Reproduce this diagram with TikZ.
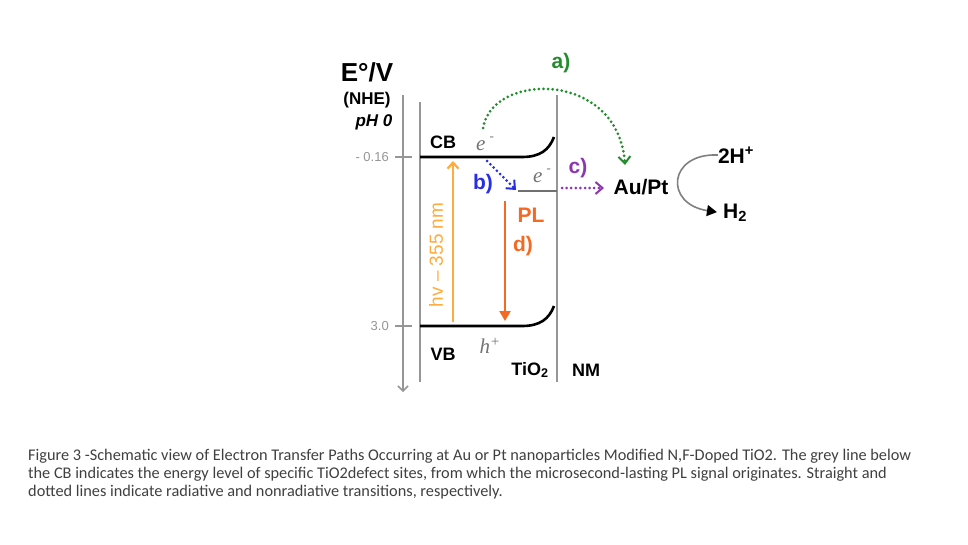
\documentclass[tikz,border=0pt]{standalone}
\usepackage{fontspec}
\setmainfont{Liberation Sans}
\newfontfamily\capfont{Carlito}
\newfontfamily\carrierfont{Liberation Serif}
\usetikzlibrary{arrows.meta, positioning}
\definecolor{axisgrey}{RGB}{150,150,150}
\definecolor{pathgreen}{RGB}{35,140,45}
\definecolor{pathblue}{RGB}{40,45,230}
\definecolor{pathpurple}{RGB}{140,55,175}
\definecolor{lightorange}{RGB}{255,172,60}
\definecolor{deeporange}{RGB}{245,105,35}
\tikzset{
    lbl/.style={font=\bfseries\fontsize{18}{18}\selectfont, inner sep=0pt},
    biglbl/.style={font=\bfseries\fontsize{21}{21}\selectfont, inner sep=0pt},
    carrier/.style={font=\carrierfont\itshape\fontsize{21}{21}\selectfont, text=gray!90!black, inner sep=0pt},
    band/.style={line width=2.6pt, black},
    wall/.style={axisgrey, line width=1.8pt},
    hop/.style={line width=3pt, line cap=round, dash pattern=on 0pt off 4.6pt,
        -{Straight Barb[length=7pt,width=12pt,line width=2pt]}},
}
\newcommand{\EnergyTick}[3]{
    \draw[axisgrey, line width=1.2pt] (395,#1) -- (412,#1);
    \node[anchor=east, text=axisgrey, font=\fontsize{13}{13}\selectfont, inner sep=0pt] (#3) at (389,#1) {#2};
}

\begin{document}
\begin{tikzpicture}[x=1pt, y=-1pt]
    \useasboundingbox[fill=white] (0,0) rectangle (968,544);
    \coordinate (AxTop) at (403,95);
    \coordinate (AxBot) at (403,392);
    \coordinate (LTop) at (420,102);
    \coordinate (LBot) at (420,382);
    \coordinate (RTop) at (557,95);
    \coordinate (RBot) at (557,382);
    \coordinate (CB1) at (420,157);
    \coordinate (CB2) at (522,157);
    \coordinate (CB3) at (554,137);
    \coordinate (VB1) at (420,326);
    \coordinate (VB2) at (522,326);
    \coordinate (VB3) at (554,306);
    \coordinate (D1) at (518,191);
    \coordinate (D2) at (557,191);
    \coordinate (aS) at (483,128);
    \coordinate (aE) at (625,165);
    \coordinate (bS) at (487,161);
    \coordinate (bE) at (516,190);
    \coordinate (cS) at (562,188);
    \coordinate (cE) at (604,188);

    % frame and axis
    \draw[axisgrey, line width=1.5pt, -{Straight Barb[length=5pt,width=10pt]}] (AxTop) -- (AxBot);
    \draw[wall] (LTop) -- (LBot);
    \draw[wall] (RTop) -- (RBot);
    \EnergyTick{157}{- 0.16}{tCB}
    \EnergyTick{326}{3.0}{tVB}

    % bands
    \draw[band] (CB1) -- (CB2) .. controls (540,157) and (549,150) .. (CB3);
    \draw[band] (VB1) -- (VB2) .. controls (540,326) and (549,319) .. (VB3);
    \draw[axisgrey!75!black, line width=2.4pt] (D1) -- (D2);

    % labels
    \node[lbl, font=\bfseries\fontsize{26}{26}\selectfont] (EV) at (367,72) {E°/V};
    \node[lbl, font=\bfseries\fontsize{17}{17}\selectfont] (NHE) at (367,100) {(NHE)};
    \node[lbl, font=\bfseries\itshape\fontsize{17}{17}\selectfont] (pH) at (374,122) {pH 0};
    \node[lbl] (CB) at (443,142) {CB};
    \node[lbl] (VB) at (443,354) {VB};
    \node[carrier] (eCB) at (485,144) {e\raisebox{0.45em}{\fontsize{13}{13}\selectfont\,\,-}};
    \node[carrier] (eD) at (542,176) {e\raisebox{0.45em}{\fontsize{13}{13}\selectfont\,\,-}};
    \node[carrier] (hVB) at (490,346) {h\textsuperscript{+}};
    \node[lbl] (TiO) at (530,370) {TiO\textsubscript{2}};
    \node[lbl] (NM) at (586,370) {NM};
    \node[biglbl] (AuPt) at (641,187) {Au/Pt};
    \node[biglbl] (Hplus) at (736,155) {2H\textsuperscript{+}};
    \node[biglbl] (Htwo) at (735,213) {H\textsubscript{2}};

    % path a)
    \node[biglbl, text=pathgreen] (pa) at (561,63) {a)};
    \draw[hop, pathgreen] (aS) .. controls (492,72) and (618,70) .. (aE);
    % path b)
    \node[biglbl, text=pathblue] (pb) at (483,184) {b)};
    \draw[hop, pathblue] (bS) -- (bE);
    % path c)
    \node[biglbl, text=pathpurple] (pc) at (578,168) {c)};
    \draw[hop, pathpurple] (cS) -- (cE);

    % excitation and PL
    \draw[lightorange, line width=2.2pt, -{Straight Barb[length=6pt,width=11pt]}] (453,322) -- (453,161);
    \node[text=lightorange, rotate=90, font=\fontsize{19}{19}\selectfont, inner sep=0pt] (hv) at (436,255) {hv – 355 nm};
    \draw[deeporange, line width=2.2pt, -{Triangle[length=10pt,width=11pt]}] (505,201) -- (505,321);
    \node[biglbl, text=deeporange] (PL) at (531,215) {PL};
    \node[biglbl, text=deeporange] (pd) at (523,246) {d)};

    % H2 evolution
    \draw[axisgrey!85!black, line width=1.6pt, shorten >=6pt, -{Triangle[length=10pt,width=11pt,black]}] (Hplus.west) .. controls (668,153) and (664,204) .. (Htwo.west);

    % caption
    \node[anchor=north west, align=left, text=black!75, font=\capfont\fontsize{16.3}{18}\selectfont, inner sep=0pt] (cap) at (28,449) {Figure 3 -Schematic view of Electron Transfer Paths Occurring at Au or Pt nanoparticles Modified N,F-Doped TiO2. The grey line below\\the CB indicates the energy level of specific TiO2defect sites, from which the microsecond-lasting PL signal originates. Straight and\\dotted lines indicate radiative and nonradiative transitions, respectively.};
\end{tikzpicture}
\end{document}
